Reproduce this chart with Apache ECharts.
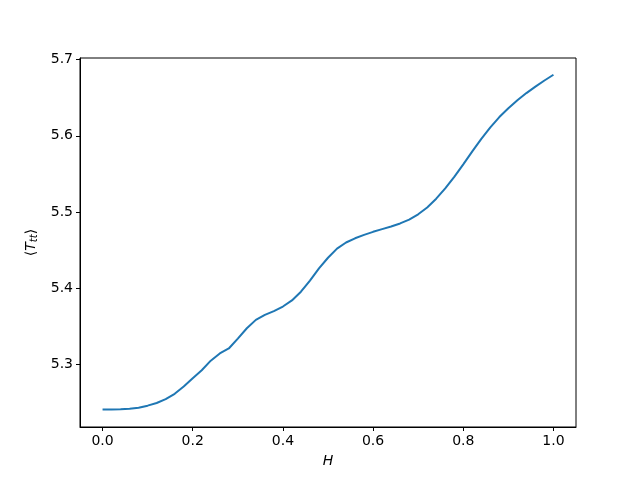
<!DOCTYPE html>
<html>
<head>
<meta charset="utf-8">
<script src="https://cdn.jsdelivr.net/npm/echarts@6/dist/echarts.min.js"></script>
<style>
  html, body { margin: 0; padding: 0; background: #fff; }
  #chart { width: 640px; height: 480px; }
</style>
</head>
<body>
<div id="chart"></div>
<script>
// field strength H and mean <T_tt>
var hValues = [0.00, 0.02, 0.04, 0.06, 0.08, 0.10, 0.12, 0.14, 0.16, 0.18,
  0.20, 0.22, 0.24, 0.26, 0.28, 0.30, 0.32, 0.34, 0.36, 0.38,
  0.40, 0.42, 0.44, 0.46, 0.48, 0.50, 0.52, 0.54, 0.56, 0.58,
  0.60, 0.62, 0.64, 0.66, 0.68, 0.70, 0.72, 0.74, 0.76, 0.78,
  0.80, 0.82, 0.84, 0.86, 0.88, 0.90, 0.92, 0.94, 0.96, 0.98, 1.00];
var tttValues = [5.2410, 5.2411, 5.2413, 5.2420, 5.2433, 5.2460, 5.2495, 5.2545, 5.2615, 5.2710,
  5.2820, 5.2925, 5.3050, 5.3145, 5.3210, 5.3340, 5.3475, 5.3585, 5.3650, 5.3700,
  5.3760, 5.3840, 5.3955, 5.4100, 5.4260, 5.4400, 5.4520, 5.4600, 5.4655, 5.4700,
  5.4740, 5.4775, 5.4810, 5.4850, 5.4900, 5.4970, 5.5060, 5.5175, 5.5310, 5.5460,
  5.5625, 5.5795, 5.5960, 5.6110, 5.6245, 5.6360, 5.6465, 5.6560, 5.6645, 5.6725, 5.6800];
var xTicks = [0.0, 0.2, 0.4, 0.6, 0.8, 1.0];
var yTicks = [5.3, 5.4, 5.5, 5.6, 5.7];

var points = hValues.map(function (h, i) { return [h, tttValues[i]]; });

var font = "DejaVu Sans";
var chart = echarts.init(document.getElementById("chart"));
chart.setOption({
  animation: false,
  backgroundColor: "#fff",
  grid: {
    left: 80, right: 64, top: 58, bottom: 53,
    show: true, borderColor: "#000", borderWidth: 1, backgroundColor: "transparent"
  },
  xAxis: {
    type: "value",
    min: -0.05,
    max: 1.05,
    name: "H",
    nameLocation: "middle",
    nameGap: 27,
    nameTextStyle: { fontFamily: font, fontStyle: "italic", fontSize: 14, color: "#000" },
    axisLine: { show: true, onZero: false, lineStyle: { color: "#000", width: 1 } },
    splitLine: { show: false },
    axisTick: { show: true, inside: false, length: 4, customValues: xTicks, lineStyle: { color: "#000", width: 1 } },
    axisLabel: {
      customValues: xTicks, margin: 7, fontFamily: font, fontSize: 14, color: "#000",
      formatter: function (v) { return v.toFixed(1); }
    }
  },
  yAxis: {
    type: "value",
    min: 5.218,
    max: 5.702,
    name: "{a|⟨}{i|T}{s|tt}{a|⟩}",
    nameLocation: "middle",
    nameRotate: 90,
    nameGap: 40,
    nameTextStyle: {
      fontFamily: font, fontSize: 14, color: "#000",
      rich: {
        a: { fontFamily: font, fontSize: 14, color: "#000" },
        i: { fontFamily: font, fontStyle: "italic", fontSize: 14, color: "#000" },
        s: { fontFamily: font, fontStyle: "italic", fontSize: 10, color: "#000", padding: [6, 0, 0, 0] }
      }
    },
    axisLine: { show: true, onZero: false, lineStyle: { color: "#000", width: 1 } },
    splitLine: { show: false },
    axisTick: { show: true, inside: false, length: 4, customValues: yTicks, lineStyle: { color: "#000", width: 1 } },
    axisLabel: {
      customValues: yTicks, margin: 7, fontFamily: font, fontSize: 14, color: "#000",
      formatter: function (v) { return v.toFixed(1); }
    }
  },
  series: [{
    type: "line",
    data: points,
    showSymbol: false,
    smooth: false,
    lineStyle: { color: "#1f77b4", width: 2 },
    itemStyle: { color: "#1f77b4" }
  }]
});
</script>
</body>
</html>
